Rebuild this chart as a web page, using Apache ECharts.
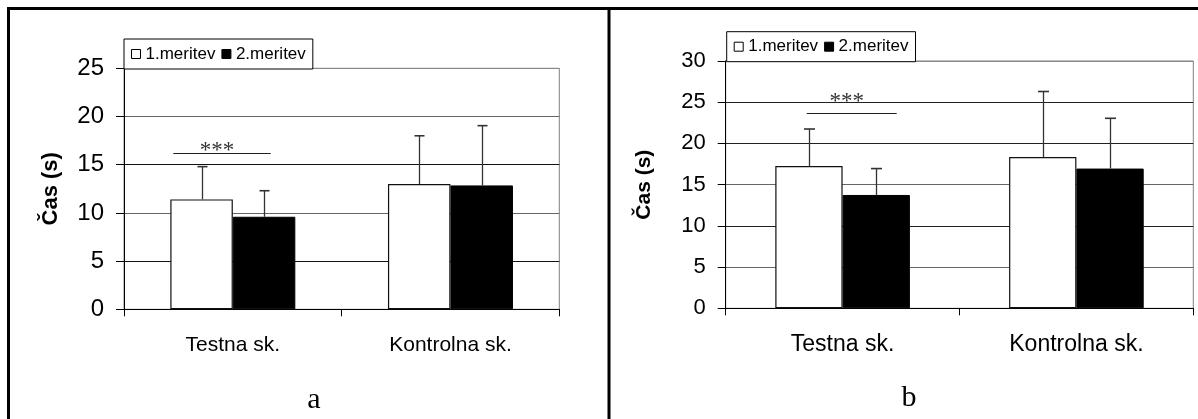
<!DOCTYPE html>
<html><head><meta charset="utf-8">
<script src="https://cdn.jsdelivr.net/npm/echarts@6/dist/echarts.min.js"></script>
<style>html,body{margin:0;padding:0;background:#fff}#c{width:1198px;height:419px}</style>
</head><body><div id="c"></div>
<script>
// ---- data ----
const categories = ['Testna sk.', 'Kontrolna sk.'];
const seriesNames = ['1.meritev', '2.meritev'];
// panel a
const aMean1 = [11.4, 13.0];
const aUpper1 = [14.8, 18.0];
const aMean2 = [9.6, 12.85];
const aUpper2 = [12.3, 19.05];
const aSigLine = [16.25];
const aSigStars = [16.85];
const aTicks = [0, 5, 10, 15, 20, 25];
// panel b
const bMean1 = [17.25, 18.35];
const bUpper1 = [21.75, 26.3];
const bMean2 = [13.75, 16.95];
const bUpper2 = [16.95, 23.05];
const bSigLine = [23.65];
const bSigStars = [25.55];
const bTicks = [0, 5, 10, 15, 20, 25, 30];
const panelLabels = ['a', 'b'];

const SANS = '"Liberation Sans", Arial, sans-serif';
const SERIF = '"Liberation Serif", "Times New Roman", serif';

const panels = [
  {grid:{left:124, top:68.3, width:435.3, height:241}, ticks:aTicks,
   m1:aMean1, u1:aUpper1, m2:aMean2, u2:aUpper2, sig:aSigLine, stars:aSigStars,
   bw:62.5, cap:10, lineOff:[-59.5, 37.9], yFont:24, xFont:21, nameFont:22, nameGap:62,
   legend:{left:124, top:39}, split:['#000','#111','#666','#111','#666','#888']},
  {grid:{left:725.7, top:61, width:467.6, height:247.3}, ticks:bTicks,
   m1:bMean1, u1:bUpper1, m2:bMean2, u2:bUpper2, sig:bSigLine, stars:bSigStars,
   bw:67.3, cap:11, lineOff:[-35.9, 54.1], yFont:22, xFont:23, nameFont:21, nameGap:71,
   legend:{left:726.7, top:31.7}, split:['#000','#666','#222','#666','#222','#222','#888']}
];

const grids = [], xAxes = [], yAxes = [], series = [], legends = [];

panels.forEach((p, gi) => {
  grids.push(Object.assign({show:true, borderColor:'#808080', borderWidth:1, backgroundColor:'transparent'}, p.grid));
  xAxes.push({
    type:'category', gridIndex:gi, data:categories, boundaryGap:true,
    axisLine:{lineStyle:{color:'#000', width:1}},
    axisTick:{show:true, inside:false, length:7, lineStyle:{color:'#000'}},
    axisLabel:{fontFamily:SANS, fontSize:p.xFont, color:'#000', margin:25},
    splitLine:{show:false}
  });
  const mx = p.ticks[p.ticks.length-1];
  yAxes.push({
    type:'value', gridIndex:gi, min:p.ticks[0], max:mx, interval:p.ticks[1]-p.ticks[0],
    name:'Čas (s)', nameLocation:'middle', nameRotate:90, nameGap:p.nameGap,
    nameTextStyle:{fontFamily:SANS, fontSize:p.nameFont, fontWeight:'bold', color:'#000'},
    axisLine:{show:true, lineStyle:{color:'#000', width:1}},
    axisTick:{show:true, inside:false, length:8, lineStyle:{color:'#000'}},
    axisLabel:{fontFamily:SANS, fontSize:p.yFont, color:'#000', margin:20},
    splitLine:{show:true, lineStyle:{color:p.split, width:1}}
  });
  series.push({
    type:'bar', name:seriesNames[0], xAxisIndex:gi, yAxisIndex:gi, data:p.m1,
    barWidth:p.bw, barGap:'0%', silent:true,
    itemStyle:{color:'#fff', borderColor:'#111', borderWidth:1.2}
  });
  series.push({
    type:'bar', name:seriesNames[1], xAxisIndex:gi, yAxisIndex:gi, data:p.m2,
    barWidth:p.bw, barGap:'0%', silent:true,
    itemStyle:{color:'#000', borderColor:'#000', borderWidth:1}
  });
  [[p.m1, p.u1, -1], [p.m2, p.u2, 1]].forEach(([m, u, side]) => {
    series.push({
      type:'custom', xAxisIndex:gi, yAxisIndex:gi, z:5, silent:true,
      data: m.map((v, i) => [i, v, u[i]]),
      renderItem(params, api) {
        const i = api.value(0);
        const p0 = api.coord([i, api.value(1)]);
        const p1 = api.coord([i, api.value(2)]);
        const x = Math.round(p0[0] + side * p.bw / 2) + 0.5;
        return {type:'group', children:[
          {type:'line', shape:{x1:x, y1:p0[1], x2:x, y2:p1[1]}, style:{stroke:'#333', lineWidth:1.3}},
          {type:'line', shape:{x1:x - p.cap/2, y1:p1[1], x2:x + p.cap/2, y2:p1[1]}, style:{stroke:'#333', lineWidth:1.6}}
        ]};
      }
    });
  });
  series.push({
    type:'custom', xAxisIndex:gi, yAxisIndex:gi, z:5, silent:true,
    data: p.sig.map((v, k) => [0, v, p.stars[k]]),
    renderItem(params, api) {
      const c = api.coord([api.value(0), api.value(1)]);
      const s = api.coord([api.value(0), api.value(2)]);
      const x1 = c[0] + p.lineOff[0], x2 = c[0] + p.lineOff[1];
      const y = Math.round(c[1]) + 0.5;
      return {type:'group', children:[
        {type:'line', shape:{x1:x1, y1:y, x2:x2, y2:y}, style:{stroke:'#222', lineWidth:1.2}},
        {type:'text', style:{text:'***', x:(x1 + x2) / 2 - 5, y:s[1] + 4, font:'23px ' + SERIF, fill:'#333', align:'center', verticalAlign:'middle'}}
      ]};
    }
  });
  legends.push({
    show:true, left:p.legend.left, top:p.legend.top, orient:'horizontal',
    backgroundColor:'#fff', borderColor:'#000', borderWidth:1, borderRadius:0,
    padding:[5, 7, 5, 7], itemGap:6, itemWidth:9, itemHeight:9, selectedMode:false,
    textStyle:{fontFamily:SANS, fontSize:17, color:'#000', lineHeight:20},
    data:[
      {name:seriesNames[0], icon:'rect', itemStyle:{color:'#fff', borderColor:'#000', borderWidth:1}},
      {name:seriesNames[1], icon:'rect', itemStyle:{color:'#000', borderColor:'#000', borderWidth:1}}
    ]
  });
});

const chart = echarts.init(document.getElementById('c'), null, {renderer:'canvas'});
chart.setOption({
  animation:false,
  backgroundColor:'#fff',
  grid:grids, xAxis:xAxes, yAxis:yAxes, series:series, legend:legends,
  graphic:[
    {type:'rect', shape:{x:7, y:7, width:1191, height:3}, style:{fill:'#000'}, z:10},
    {type:'rect', shape:{x:7, y:7, width:3, height:412}, style:{fill:'#000'}, z:10},
    {type:'rect', shape:{x:607.5, y:7, width:3, height:412}, style:{fill:'#000'}, z:10},
    {type:'text', style:{text:panelLabels[0], x:314, y:400, font:'30px ' + SERIF, fill:'#000', align:'center', verticalAlign:'middle'}, z:10},
    {type:'text', style:{text:panelLabels[1], x:909, y:398, font:'30px ' + SERIF, fill:'#000', align:'center', verticalAlign:'middle'}, z:10}
  ]
});
</script></body></html>
